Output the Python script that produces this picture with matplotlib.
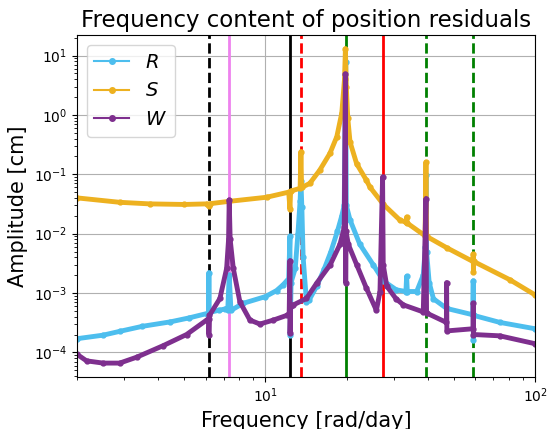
import numpy as np
import matplotlib.pyplot as plt
from matplotlib.lines import Line2D

freq_R = [2.0, 2.5, 2.88, 3.5, 4.43, 5.2, 6.05, 6.16, 6.17, 6.18, 6.7, 7.1, 7.25,
          7.34, 7.45, 8.27, 10.0, 11.0, 11.64, 12.2, 12.33, 12.36, 12.45, 12.9,
          13.2, 13.45, 13.54, 13.65, 13.8, 14.2, 14.5, 15.5, 16.5, 17.5, 18.5,
          19.2, 19.6, 19.85, 19.95, 20.6, 22.4, 25.1, 27.4, 30.6, 33.2, 33.4,
          33.6, 36.4, 38.5, 39.2, 39.4, 39.6, 40.5, 42.0, 47.0, 58.8, 59.0, 59.05,
          59.2, 74.0, 100.0]
amp_R = [1.7e-4, 1.95e-4, 2.26e-4, 2.75e-4, 3.26e-4, 3.8e-4, 4.5e-4, 4.6e-4, 2.2e-3,
         4.7e-4, 5.1e-4, 5.4e-4, 5.2e-4, 2.0e-3, 5.1e-4, 6.7e-4, 8.7e-4, 1.1e-3,
         1.38e-3, 1.75e-3, 9.0e-3, 2.0e-4, 1.5e-3, 2.6e-3, 1.0e-2, 3.6e-2, 7.8e-2,
         2.8e-2, 4.0e-3, 7.1e-4, 7.5e-4, 1.3e-3, 2.5e-3, 5.0e-3, 1.1e-2, 2.0e-2,
         3.0e-2, 7.7, 3.0e-2, 1.7e-2, 6.6e-3, 3.0e-3, 1.6e-3, 1.13e-3, 1.06e-3,
         1.9e-3, 1.06e-3, 1.06e-3, 2.0e-3, 6.0e-3, 9.6e-2, 5.0e-3, 1.5e-3, 8.0e-4,
         5.5e-4, 4.3e-4, 1.6e-3, 1.6e-4, 4.2e-4, 3.2e-4, 2.5e-4]

freq_S = [2.0, 2.88, 3.72, 5.0, 6.05, 6.17, 6.25, 7.34, 10.1, 12.2, 12.33, 12.4,
          13.45, 13.54, 13.62, 14.6, 15.9, 17.35, 18.4, 19.2, 19.65, 19.8, 19.95,
          20.2, 20.6, 21.8, 23.7, 24.4, 27.4, 31.5, 33.2, 33.4, 33.6, 39.1, 39.4,
          39.6, 47.0, 58.8, 59.0, 59.1, 59.2, 80.7, 100.0]
amp_S = [0.040, 0.0337, 0.0317, 0.031, 0.0317, 0.029, 0.032, 0.035, 0.041, 0.050,
         0.026, 0.052, 0.058, 0.24, 0.060, 0.070, 0.117, 0.225, 0.43, 1.08, 4.0,
         13.0, 3.0, 0.9, 0.35, 0.15, 0.079, 0.061, 0.031, 0.017, 0.0155, 0.019,
         0.015, 0.0092, 0.16, 0.009, 0.0058, 0.0034, 0.0045, 0.0023, 0.0034,
         0.00167, 0.00093]

freq_W = [2.0, 2.17, 2.5, 2.88, 3.33, 4.18, 5.1, 6.05, 6.16, 6.17, 6.2, 6.78, 7.18,
          7.3, 7.34, 7.4, 7.6, 8.04, 8.76, 9.54, 10.7, 12.0, 12.25, 12.33, 12.34,
          12.4, 12.7, 14.2, 15.5, 17.4, 18.9, 19.6, 19.8, 19.85, 19.9, 20.3, 21.8,
          23.7, 25.8, 26.6, 27.2, 27.35, 28.2, 30.5, 32.5, 38.5, 39.4, 39.6, 46.9,
          47.0, 47.1, 58.9, 59.0, 59.1, 74.0, 100.0]
amp_W = [9.3e-5, 7.2e-5, 6.6e-5, 6.6e-5, 8.3e-5, 1.3e-4, 2.0e-4, 3.5e-4, 3.7e-4,
         2.0e-4, 4.2e-4, 8.1e-4, 2.6e-3, 8.0e-3, 3.7e-2, 8.0e-3, 2.6e-3, 7.1e-4,
         3.5e-4, 3.0e-4, 3.5e-4, 4.2e-4, 4.5e-4, 3.5e-3, 2.1e-4, 6.0e-4, 6.3e-4,
         8.1e-4, 1.47e-3, 3.0e-3, 6.6e-3, 1.27e-2, 4.9, 1.5e-3, 1.1e-2, 6.6e-3,
         3.0e-3, 1.2e-3, 5.1e-4, 1.05e-3, 9.0e-2, 3.0e-3, 1.3e-3, 8.0e-4, 6.3e-4,
         4.8e-4, 3.9e-2, 4.6e-4, 3.2e-4, 1.5e-3, 2.3e-4, 2.5e-4, 6.7e-4, 2.0e-4,
         1.9e-4, 1.4e-4]

# характерные частоты (вертикальные линии)
vlines = [(6.17, 'k', '--'), (7.34, 'violet', '-'), (12.33, 'k', '-'),
          (13.54, 'r', '--'), (19.85, 'g', '-'), (27.2, 'r', '-'),
          (39.4, 'g', '--'), (59.0, 'g', '--')]

col_R = '#4DBEEE'
col_S = '#EDB120'
col_W = '#7E2F8E'

fig = plt.figure(figsize=(5.51, 4.29), dpi=100)
ax = fig.add_axes([0.1397, 0.122, 0.8313, 0.796])

for xv, c, ls in vlines:
    ax.axvline(xv, color=c, linestyle=ls, linewidth=2)

ax.plot(freq_R, amp_R, color=col_R, marker='.', ms=7, lw=3.5)
ax.plot(freq_S, amp_S, color=col_S, marker='.', ms=7, lw=3.5)
ax.plot(freq_W, amp_W, color=col_W, marker='.', ms=7, lw=3.5)

ax.set_xscale('log')
ax.set_yscale('log')
ax.set_xlim(2, 100)
ax.set_ylim(3.9e-5, 22)
ax.grid(True, which='major', color='#b0b0b0', linewidth=0.8)
ax.set_axisbelow(True)

ax.set_title('Frequency content of position residuals', fontsize=16.5)
ax.set_xlabel('Frequency [rad/day]', fontsize=15)
ax.set_ylabel('Amplitude [cm]', fontsize=15)

handles = [Line2D([], [], color=col_R, marker='.', ms=8, lw=1.5),
           Line2D([], [], color=col_S, marker='.', ms=8, lw=1.5),
           Line2D([], [], color=col_W, marker='.', ms=8, lw=1.5)]
ax.legend(handles, ['$R$', '$S$', '$W$'], loc='upper left', fontsize=14,
          handlelength=1.8)

fig.savefig('out.png', dpi=100)
